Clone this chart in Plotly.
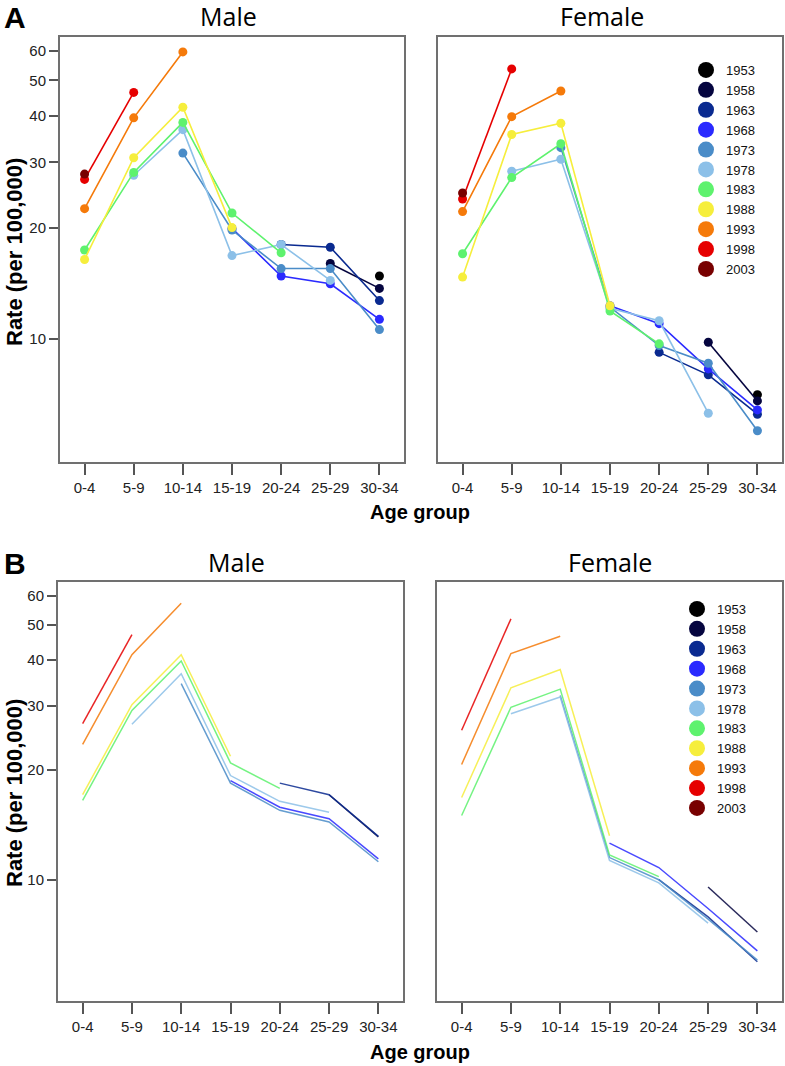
import math
import plotly.graph_objects as go

AGE_GROUPS = ["0-4", "5-9", "10-14", "15-19", "20-24", "25-29", "30-34"]
YEARS = ["1953", "1958", "1963", "1968", "1973", "1978", "1983", "1988", "1993", "1998", "2003"]
COLORS = ["#000000", "#05053f", "#0a2a90", "#2a2aff", "#4a8cc8", "#8cc0e8",
          "#5ef26e", "#f6ee3c", "#f57a0a", "#e60000", "#780000"]
N = None

# Panel A: observed rates, Male
A_MALE = {
    "1953": [N, N, N, N, N, N, 14.8],
    "1958": [N, N, N, N, N, 16.0, 13.7],
    "1963": [N, N, N, N, 18.0, 17.7, 12.7],
    "1968": [N, N, N, 19.9, 14.8, 14.1, 11.3],
    "1973": [N, N, 31.8, 19.7, 15.5, 15.5, 10.6],
    "1978": [N, 27.7, 36.8, 16.8, 18.0, 14.4, N],
    "1983": [17.4, 28.2, 38.5, 21.9, 17.1, N, N],
    "1988": [16.4, 30.9, 42.3, 20.0, N, N, N],
    "1993": [22.5, 39.6, 59.7, N, N, N, N],
    "1998": [27.0, 46.4, N, N, N, N, N],
    "2003": [27.9, N, N, N, N, N, N],
}
# Panel A: observed rates, Female
A_FEMALE = {
    "1953": [N, N, N, N, N, N, 7.07],
    "1958": [N, N, N, N, N, 9.8, 6.8],
    "1963": [N, N, N, N, 9.2, 8.0, 6.26],
    "1968": [N, N, N, 12.3, 11.0, 8.3, 6.43],
    "1973": [N, N, 32.9, 12.2, 9.6, 8.6, 5.65],
    "1978": [N, 28.4, 30.6, 12.1, 11.2, 6.3, N],
    "1983": [17.0, 27.3, 33.7, 11.9, 9.7, N, N],
    "1988": [14.7, 35.7, 38.3, 12.3, N, N, N],
    "1993": [22.1, 39.9, 46.8, N, N, N, N],
    "1998": [23.9, 53.7, N, N, N, N, N],
    "2003": [24.8, N, N, N, N, N, N],
}
# Panel B: fitted rates, Male
B_MALE = {
    "1953": [N, N, N, N, N, N, N],
    "1958": [N, N, N, N, N, 17.1, 13.1],
    "1963": [N, N, N, N, 18.4, 17.1, 13.15],
    "1968": [N, N, N, 18.7, 15.8, 14.7, 11.4],
    "1973": [N, N, 34.5, 18.4, 15.5, 14.4, 11.2],
    "1978": [N, 26.7, 36.7, 19.3, 16.4, 15.3, N],
    "1983": [16.5, 29.1, 39.8, 20.9, 17.8, N, N],
    "1988": [17.1, 30.2, 41.4, 21.8, N, N, N],
    "1993": [23.5, 41.4, 57.3, N, N, N, N],
    "1998": [26.8, 47.0, N, N, N, N, N],
    "2003": [N, N, N, N, N, N, N],
}
# Panel B: fitted rates, Female
B_FEMALE = {
    "1953": [N, N, N, N, N, N, N],
    "1958": [N, N, N, N, N, 9.55, 7.19],
    "1963": [N, N, N, N, 10.0, 7.91, 5.96],
    "1968": [N, N, N, 12.6, 10.8, 8.34, 6.38],
    "1973": [N, N, 32.0, 11.5, 10.0, 7.8, 6.02],
    "1978": [N, 28.5, 31.7, 11.3, 9.8, 7.6, N],
    "1983": [15.0, 29.7, 33.3, 11.7, 10.2, N, N],
    "1988": [16.8, 33.6, 37.7, 13.2, N, N, N],
    "1993": [20.7, 41.7, 46.5, N, N, N, N],
    "1998": [25.7, 51.9, N, N, N, N, N],
    "2003": [N, N, N, N, N, N, N],
}
Y_TICKS = [10, 20, 30, 40, 50, 60]
Y_MIN, Y_MAX = 4.65, 65.5

W, H = 785, 1066
fig = go.Figure()

panels = [
    (A_MALE, "x", "y", True),
    (A_FEMALE, "x2", "y2", True),
    (B_MALE, "x3", "y3", False),
    (B_FEMALE, "x4", "y4", False),
]
for data, xa, ya, with_markers in panels:
    for year, color in zip(YEARS, COLORS):
        vals = data[year]
        if all(v is None for v in vals):
            continue
        fig.add_trace(go.Scatter(
            x=AGE_GROUPS, y=vals, xaxis=xa, yaxis=ya,
            mode="lines+markers" if with_markers else "lines",
            line=dict(color=color, width=1.6 if with_markers else 1.5),
            marker=dict(color=color, size=9),
            opacity=1 if with_markers else 0.85,
            connectgaps=False, showlegend=False, hoverinfo="skip"))

# legend entries
for leg, xa, ya in [("legend", "x2", "y2"), ("legend2", "x4", "y4")]:
    for year, color in zip(YEARS, COLORS):
        fig.add_trace(go.Scatter(
            x=[None], y=[None], xaxis=xa, yaxis=ya, mode="markers",
            marker=dict(color=color, size=16), name=year,
            legend=leg, showlegend=True))

def px_x(a, b):
    return [a / W, b / W]

def px_y(top, bottom):
    return [1 - bottom / H, 1 - top / H]

TICKFONT = dict(family="Liberation Sans Narrow, Arial Narrow, Liberation Sans, Arial",
                size=15, color="#222222")
FRAME = dict(showline=True, mirror=True, linecolor="#707070", linewidth=2,
             showgrid=False, zeroline=False)

def xaxis(dom, anchor):
    return dict(domain=dom, anchor=anchor, type="category",
                categoryorder="array", categoryarray=AGE_GROUPS,
                range=[-0.5, 6.5], ticks="outside", ticklen=11, tickwidth=1.5,
                tickcolor="#555555", tickfont=TICKFONT, **FRAME)

def yaxis(dom, anchor, labels):
    d = dict(domain=dom, anchor=anchor, type="log",
             range=[math.log10(Y_MIN), math.log10(Y_MAX)], **FRAME)
    if labels:
        d.update(tickvals=Y_TICKS, ticktext=[str(t) for t in Y_TICKS],
                 ticks="outside", ticklen=9, tickwidth=1.5, tickcolor="#555555",
                 tickfont=TICKFONT)
    else:
        d.update(showticklabels=False, ticks="")
    return d

LEGFONT = dict(family="Liberation Sans, Arial", size=13, color="#111")
fig.update_layout(
    width=W, height=H, margin=dict(l=0, r=0, t=0, b=0),
    plot_bgcolor="white", paper_bgcolor="white",
    xaxis=xaxis(px_x(60, 404), "y"),
    yaxis=yaxis(px_y(37, 462), "x", True),
    xaxis2=xaxis(px_x(438, 782), "y2"),
    yaxis2=yaxis(px_y(37, 462), "x2", False),
    xaxis3=xaxis(px_x(58, 403), "y3"),
    yaxis3=yaxis(px_y(582, 1001), "x3", True),
    xaxis4=xaxis(px_x(437, 782), "y4"),
    yaxis4=yaxis(px_y(582, 1001), "x4", False),
    legend=dict(x=686 / W, y=1 - 55 / H, xanchor="left", yanchor="top",
                bgcolor="rgba(0,0,0,0)", font=LEGFONT, itemsizing="trace"),
    legend2=dict(x=677 / W, y=1 - 594 / H, xanchor="left", yanchor="top",
                 bgcolor="rgba(0,0,0,0)", font=LEGFONT, itemsizing="trace"),
    showlegend=True,
)

def ann(text, x, y, size, family, angle=0, bold=False):
    fig.add_annotation(text=f"<b>{text}</b>" if bold else text,
                       x=x / W, y=1 - y / H, xref="paper", yref="paper",
                       xanchor="center", yanchor="middle", showarrow=False,
                       textangle=angle, font=dict(size=size, family=family, color="#000"))

ann("A", 15, 17, 30, "Liberation Sans, Arial", bold=True)
ann("B", 15, 563, 30, "Liberation Sans, Arial", bold=True)
ann("Male", 228, 16, 25, "Open Sans")
ann("Female", 602, 16, 25, "Open Sans")
ann("Male", 236, 562, 25, "Open Sans")
ann("Female", 610, 562, 25, "Open Sans")
ann("Rate (per 100,000)", 14, 252, 22, "Liberation Sans, Arial", angle=-90, bold=True)
ann("Rate (per 100,000)", 14, 793, 22, "Liberation Sans, Arial", angle=-90, bold=True)
ann("Age group", 420, 512, 20, "Liberation Sans, Arial", bold=True)
ann("Age group", 420, 1052, 20, "Liberation Sans, Arial", bold=True)

fig.write_html("out.html", config={"displayModeBar": False},
               post_script="document.body.style.margin='0';document.body.style.padding='0';"
                           "document.body.style.overflow='hidden';")
